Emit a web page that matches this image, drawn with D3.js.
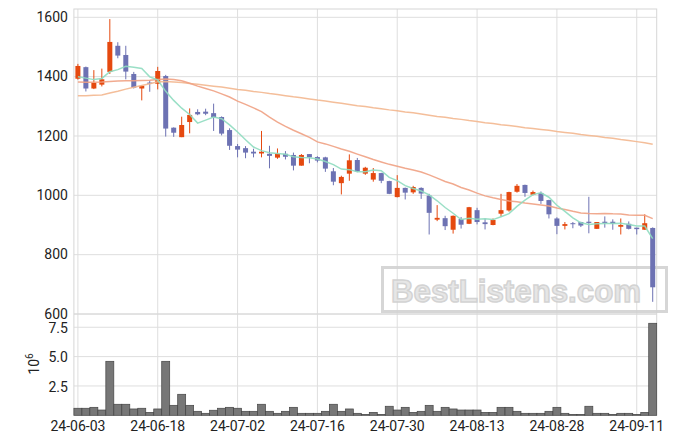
<!DOCTYPE html>
<html><head><meta charset="utf-8">
<script src="https://cdn.jsdelivr.net/npm/d3@7"></script>
<style>html,body{margin:0;padding:0;background:#fff}svg{display:block}</style>
</head><body><svg id="c" width="675" height="444"></svg>
<script>
const dates = ["24-06-03","24-06-04","24-06-05","24-06-07","24-06-10","24-06-11","24-06-12","24-06-13","24-06-14","24-06-17","24-06-18","24-06-19","24-06-20","24-06-21","24-06-24","24-06-25","24-06-26","24-06-27","24-06-28",
"24-07-01","24-07-02","24-07-03","24-07-04","24-07-05","24-07-08","24-07-09","24-07-10","24-07-11","24-07-12","24-07-15","24-07-16","24-07-17","24-07-18","24-07-19","24-07-22","24-07-23","24-07-24","24-07-25","24-07-26","24-07-29","24-07-30","24-07-31",
"24-08-01","24-08-02","24-08-05","24-08-06","24-08-07","24-08-08","24-08-09","24-08-12","24-08-13","24-08-14","24-08-16","24-08-19","24-08-20","24-08-21","24-08-22","24-08-23","24-08-26","24-08-27","24-08-28","24-08-29","24-08-30",
"24-09-02","24-09-03","24-09-04","24-09-05","24-09-06","24-09-09","24-09-10","24-09-11","24-09-12","24-09-13"];
const open  = [1393,1432,1360,1373,1416,1504,1473,1409,1360,1380,1376,1402,1228,1196,1247,1281,1282,1277,1264,1220,1166,1159,1147,1141,1140,1127,1140,1136,1100,1139,1129,1128,1081,1041,1073,1119,1073,1053,1075,1048,994,1025,1010,1025,999,918,923,884,920,904,950,909,900,938,949,1012,1035,1002,1008,984,922,897,906,910,911,887,911,911,894,904,891,884,890];
const high  = [1443,1434,1422,1427,1594,1516,1504,1416,1371,1388,1433,1406,1229,1265,1293,1290,1292,1309,1266,1226,1173,1166,1157,1217,1167,1158,1149,1144,1139,1139,1132,1130,1092,1066,1138,1126,1096,1092,1076,1049,1068,1026,1032,1027,1005,967,931,932,927,961,958,922,922,1005,1012,1038,1036,1016,1013,985,926,910,910,911,995,910,929,919,922,912,891,936,892];
const low   = [1390,1350,1358,1367,1409,1462,1391,1360,1320,1349,1357,1198,1197,1196,1209,1270,1270,1217,1202,1153,1128,1125,1128,1128,1091,1123,1121,1084,1100,1108,1111,1079,1034,1003,1049,1078,1069,1046,1041,1004,993,986,1005,988,868,913,883,871,888,903,902,885,899,928,945,1009,995,1000,971,922,869,885,889,893,872,887,891,884,868,885,868,884,641];
const close = [1436,1360,1379,1391,1517,1471,1417,1363,1369,1376,1419,1225,1211,1237,1271,1273,1275,1263,1208,1167,1154,1144,1141,1147,1133,1140,1130,1100,1136,1128,1117,1090,1046,1062,1118,1080,1093,1075,1049,1005,1025,1009,1028,1006,941,924,896,931,901,960,910,903,917,950,1011,1032,1008,1011,981,936,897,903,903,898,907,910,907,904,900,887,886,906,690];
const volume = [0.6,0.6,0.68,0.45,4.6,0.94,0.94,0.54,0.6,0.25,0.54,4.6,0.85,1.79,0.85,0.34,0.17,0.43,0.6,0.68,0.6,0.34,0.34,0.94,0.34,0.17,0.34,0.68,0.17,0.17,0.17,0.34,0.94,0.34,0.54,0.17,0.08,0.25,0.08,0.77,0.45,0.68,0.25,0.34,0.85,0.34,0.68,0.54,0.45,0.45,0.45,0.25,0.25,0.68,0.68,0.34,0.17,0.17,0.17,0.34,0.68,0.17,0.08,0.08,0.77,0.17,0.17,0.08,0.17,0.17,0.08,0.25,7.84];
const ma5 = [1400,1395,1390,1394,1416.6,1423.6,1435,1431.8,1427.4,1399.2,1388.8,1350.4,1320,1293.6,1272.6,1243.4,1253.4,1263.8,1258,1237.2,1213.4,1187.2,1162.8,1150.6,1143.8,1141,1138.2,1130,1127.8,1126.8,1122.2,1114.2,1103.4,1088.6,1086.6,1079.2,1079.8,1085.6,1083,1060.4,1049.4,1032.6,1023.2,1014.6,1001.8,981.6,959,939.6,918.6,922.4,919.6,921,918.2,928,938.2,962.6,983.6,1002.4,1008.6,993.6,966.6,945.6,924,907.4,901.6,904.2,905,905.2,905.6,901.6,896.8,896.6,853.8];
const ma20 = [1382,1381,1381,1382,1384,1385,1386,1386,1387,1388,1390,1392,1390,1386,1378,1368,1360,1352,1342,1331.4,1317.3,1306.5,1294.6,1282.4,1263.2,1246.7,1232.3,1219.2,1207.5,1195.1,1180,1173.3,1165,1156.3,1148.6,1139,1129.9,1120.5,1112.5,1104.4,1098,1091.2,1085.6,1078.5,1068.9,1058.1,1046.4,1038,1026.2,1017.8,1007.5,998.1,991.7,986.1,980.7,978.3,974,970.9,967.5,964,957.6,952.3,946.1,940.7,939,938.3,938.8,937.5,937.4,933.8,932.6,932.7,921.4];
const ma120 = [1336,1336,1337,1338,1345,1351,1358,1364,1370,1376,1383,1384,1382,1380,1377,1374,1371,1368,1365,1361,1357,1354,1350,1347,1343,1340,1336,1332,1329,1325,1321,1318,1314,1310,1306,1302,1299,1295,1292,1288,1285,1281,1278,1274,1270,1266,1263,1259,1256,1252,1249,1245,1242,1238,1235,1232,1228,1225,1222,1219,1215,1212,1209,1205,1202,1199,1195,1192,1188,1185,1181,1177,1172];
const priceTicks = [600,800,1000,1200,1400,1600];
const volTicks = [2.5,5.0,7.5];
const xTickIdx = [0,10,20,30,40,50,60,70];

const pL=73.9, pR=656.7, pT=9, pM=314, pB=415.3;
const svg=d3.select('#c');
const x=d3.scaleBand().domain(d3.range(dates.length)).range([pL,pR]).padding(0);
const cx=i=>x(i)+x.bandwidth()/2;
const y=d3.scaleLinear().domain([600,1628]).range([pM,pT]);
const yv=d3.scaleLinear().domain([0,8.63]).range([pB,pM]);
const FONT="Roboto, 'DejaVu Sans', sans-serif";
const gridC="#dedede";

// grid
const g=svg.append('g');
g.selectAll('.hg').data(priceTicks).join('line').attr('x1',pL).attr('x2',pR)
 .attr('y1',d=>y(d)).attr('y2',d=>y(d)).attr('stroke',gridC);
g.selectAll('.vg').data(volTicks).join('line').attr('x1',pL).attr('x2',pR)
 .attr('y1',d=>yv(d)).attr('y2',d=>yv(d)).attr('stroke',gridC);
g.selectAll('.xg').data(xTickIdx).join('line').attr('x1',d=>cx(d)).attr('x2',d=>cx(d))
 .attr('y1',pT).attr('y2',pB).attr('stroke',gridC);
svg.append('rect').attr('x',pL).attr('y',pT).attr('width',pR-pL).attr('height',pB-pT)
 .attr('fill','none').attr('stroke','#d6d6d6');
svg.append('line').attr('x1',pL).attr('x2',pR).attr('y1',pM).attr('y2',pM).attr('stroke','#d6d6d6');

// watermark
const wm=svg.append('g').attr('opacity',0.9);
wm.append('rect').attr('x',382.5).attr('y',267.5).attr('width',284).attr('height',44)
 .attr('fill','none').attr('stroke','#d2d2d2').attr('stroke-width',3);
wm.append('text').attr('x',391).attr('y',302).text('BestListens.com')
 .attr('font-family',"'Liberation Sans', Arial, sans-serif").attr('font-weight','bold').attr('font-size',32)
 .attr('textLength',250).attr('lengthAdjust','spacingAndGlyphs')
 .attr('fill','#e4e4e4').attr('stroke','#cfcfcf').attr('stroke-width',1.5);

// volume
svg.append('g').selectAll('rect').data(volume).join('rect')
 .attr('x',(d,i)=>x(i)).attr('width',x.bandwidth())
 .attr('y',d=>yv(d)).attr('height',d=>yv(0)-yv(d))
 .attr('fill','#777').attr('stroke','#444').attr('stroke-width',0.7);

// candles
const UP='#e5490f', DN='#6d72b3';
const cg=svg.append('g');
const bw=5;
dates.forEach((d,i)=>{
  const c= close[i]>=open[i]?UP:DN;
  cg.append('line').attr('x1',cx(i)).attr('x2',cx(i)).attr('y1',y(high[i])).attr('y2',y(low[i]))
    .attr('stroke',c).attr('stroke-width',1);
  const t=y(Math.max(open[i],close[i])), b=y(Math.min(open[i],close[i]));
  cg.append('rect').attr('x',cx(i)-bw/2).attr('width',bw).attr('y',t).attr('height',Math.max(1,b-t))
    .attr('fill',c);
});

// MAs
const line=arr=>d3.line().x((d,i)=>cx(i)).y(d=>y(d))(arr);
svg.append('path').attr('d',line(ma120)).attr('fill','none').attr('stroke','#f3b78f').attr('stroke-width',1.5).attr('opacity',0.9);
svg.append('path').attr('d',line(ma20)).attr('fill','none').attr('stroke','#f0a183').attr('stroke-width',1.5).attr('opacity',0.9);
svg.append('path').attr('d',line(ma5)).attr('fill','none').attr('stroke','#8fdcc0').attr('stroke-width',1.5).attr('opacity',0.9);

// axes labels
const ay=svg.append('g').attr('transform',`translate(${pL},0)`)
 .call(d3.axisLeft(y).tickValues(priceTicks).tickSize(0).tickPadding(6).tickFormat(d3.format('d')));
const av=svg.append('g').attr('transform',`translate(${pL},0)`)
 .call(d3.axisLeft(yv).tickValues(volTicks).tickSize(0).tickPadding(6).tickFormat(d3.format('.1f')));
const ax=svg.append('g').attr('transform',`translate(0,${pB})`)
 .call(d3.axisBottom(x).tickValues(xTickIdx).tickSize(0).tickPadding(6).tickFormat(i=>dates[i]));
[ay,av,ax].forEach(a=>{a.select('.domain').remove();
  a.selectAll('text').attr('font-family',FONT).attr('font-size',14).attr('fill','#222');});
ay.selectAll('text').attr('dy','0.3em');
av.selectAll('text').attr('dy','0.36em');

// offset label
const ol=svg.append('text').attr('transform','translate(38.5,364) rotate(-90)')
 .attr('text-anchor','middle').attr('font-family',FONT).attr('fill','#222');
ol.append('tspan').attr('font-size',14).text('10');
ol.append('tspan').attr('font-size',10).attr('dy',-6).text('6');
</script>
</body></html>
